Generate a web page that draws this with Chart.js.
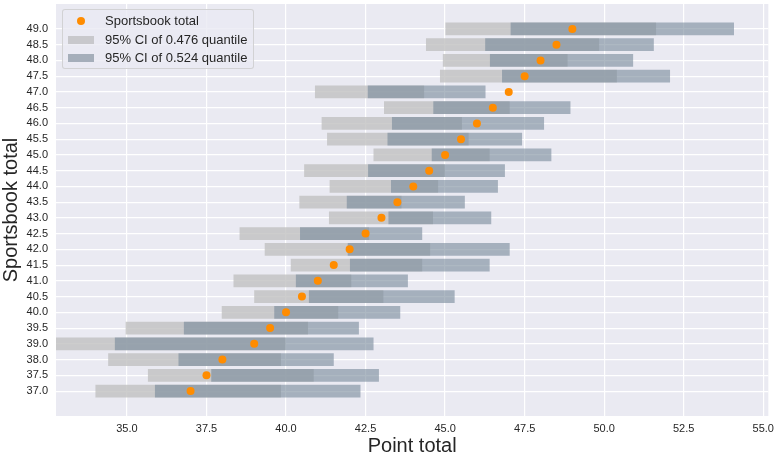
<!DOCTYPE html>
<html>
<head>
<meta charset="utf-8">
<script src="https://cdn.jsdelivr.net/npm/chart.js@4/dist/chart.umd.min.js"></script>
<style>
  html, body { margin: 0; padding: 0; background: #fff; }
  #wrap { position: relative; width: 780px; height: 456px; }
  #legend {
    position: absolute; left: 62px; top: 9px; width: 192px; height: 60px;
    box-sizing: border-box; padding: 2px 0 0 0;
    background: rgba(234, 234, 242, 0.8); border: 1px solid rgba(204, 204, 204, 0.8);
    border-radius: 3px; font-family: "Liberation Sans", Arial, sans-serif;
    font-size: 13px; color: #262626;
  }
  .item { position: relative; height: 18.5px; line-height: 18.5px; padding-left: 42px; white-space: nowrap; }
  .mark { position: absolute; top: 50%; transform: translateY(-50%); }
</style>
</head>
<body>
<div id="wrap">
  <canvas id="ci-chart" width="780" height="456"></canvas>
  <div id="legend"></div>
</div>
<script>
const sportsbookTotals = [37.0, 37.5, 38.0, 39.0, 39.5, 40.0, 40.5, 41.0, 41.5, 42.0, 42.5, 43.0,
  43.5, 44.0, 44.5, 45.0, 45.5, 46.0, 46.5, 47.0, 47.5, 48.0, 48.5, 49.0];
const yTickLabels = ["37.0", "37.5", "38.0", "39.0", "39.5", "40.0", "40.5", "41.0", "41.5", "42.0",
  "42.5", "43.0", "43.5", "44.0", "44.5", "45.0", "45.5", "46.0", "46.5", "47.0", "47.5", "48.0",
  "48.5", "49.0"];

// 95% CI of 0.476 quantile
const lowQuantLower = [34.02, 35.67, 34.42, 32.7, 34.97, 37.99, 39.01, 38.36, 40.16, 39.34, 38.55, 41.36,
  40.43, 41.38, 40.58, 42.76, 41.30, 41.13, 43.09, 40.92, 44.85, 44.94, 44.41, 45.02];
const lowQuantUpper = [39.83, 40.86, 39.83, 39.97, 40.68, 41.63, 43.05, 42.04, 44.27, 44.52, 42.6, 44.61,
  43.62, 44.77, 44.98, 46.39, 45.73, 45.52, 47.02, 44.33, 50.39, 48.84, 49.83, 51.62];

// 95% CI of 0.524 quantile
const highQuantLower = [35.89, 37.66, 36.63, 34.63, 36.80, 39.64, 40.73, 40.32, 42.02, 41.95, 40.45, 43.23,
  41.92, 43.31, 42.59, 44.59, 43.20, 43.34, 44.64, 42.58, 46.80, 46.42, 46.27, 47.07];
const highQuantUpper = [42.33, 42.91, 41.49, 42.74, 42.28, 43.58, 45.29, 43.82, 46.39, 47.02, 44.27, 46.44,
  45.61, 46.65, 46.87, 48.33, 47.41, 48.10, 48.93, 46.26, 52.06, 50.90, 51.55, 54.07];

const xTicks = [35.0, 37.5, 40.0, 42.5, 45.0, 47.5, 50.0, 52.5, 55.0];

const FONT = "'Liberation Sans', Arial, sans-serif";
const TEXT = "#262626";

const plotBackground = {
  id: "plotBackground",
  beforeDraw(chart) {
    const { ctx, chartArea: a } = chart;
    ctx.save();
    ctx.fillStyle = "#EAEAF2";
    ctx.fillRect(a.left, a.top, a.right - a.left, a.bottom - a.top);
    ctx.restore();
  },
};

const htmlLegend = {
  id: "htmlLegend",
  afterUpdate(chart) {
    const box = document.getElementById("legend");
    box.innerHTML = "";
    chart.data.datasets.forEach((ds) => {
      const row = document.createElement("div");
      row.className = "item";
      const mark = document.createElement("span");
      mark.className = "mark";
      if (ds.type === "scatter") {
        mark.style.cssText = "left:14px;width:8px;height:8px;border-radius:50%;background:" + ds.backgroundColor;
      } else {
        mark.style.cssText = "left:5px;width:26px;height:8px;background:" + ds.legendColor;
      }
      row.appendChild(mark);
      row.appendChild(document.createTextNode(ds.label));
      box.appendChild(row);
    });
  },
};

new Chart(document.getElementById("ci-chart"), {
  data: {
    datasets: [
      {
        type: "scatter",
        label: "Sportsbook total",
        data: sportsbookTotals.map((v, i) => ({ x: v, y: i })),
        backgroundColor: "darkorange",
        borderWidth: 0,
        pointRadius: 4,
        order: 0,
      },
      {
        type: "bar",
        label: "95% CI of 0.476 quantile",
        data: lowQuantLower.map((v, i) => ({ x: [v, lowQuantUpper[i]], y: i })),
        backgroundColor: "rgba(192, 192, 192, 0.8)",
        legendColor: "rgb(200, 200, 204)",
        barThickness: 12,
        grouped: false,
        borderWidth: 0,
        order: 2,
      },
      {
        type: "bar",
        label: "95% CI of 0.524 quantile",
        data: highQuantLower.map((v, i) => ({ x: [v, highQuantUpper[i]], y: i })),
        backgroundColor: "rgba(119, 136, 153, 0.6)",
        legendColor: "rgb(165, 174, 186)",
        barThickness: 12,
        grouped: false,
        borderWidth: 0,
        order: 1,
      },
    ],
  },
  options: {
    indexAxis: "y",
    responsive: false,
    animation: false,
    layout: { padding: { top: 3, right: 7, bottom: 0, left: 0 } },
    plugins: {
      legend: { display: false },
      tooltip: { enabled: false },
    },
    scales: {
      x: {
        type: "linear",
        position: "bottom",
        min: 32.77,
        max: 55.16,
        offset: false,
        afterBuildTicks: (scale) => {
          scale.ticks = xTicks.map((v) => ({ value: v }));
        },
        afterFit: (scale) => {
          scale.height = 40;
        },
        ticks: {
          callback: (v) => Number(v).toFixed(1),
          font: { family: FONT, size: 11 },
          color: TEXT,
          padding: 6,
          maxRotation: 0,
        },
        grid: { color: "#ffffff", lineWidth: 1.2, drawTicks: false, offset: false },
        border: { display: false },
        title: {
          display: true,
          text: "Point total",
          font: { family: FONT, size: 20, lineHeight: 1 },
          color: TEXT,
          padding: { top: 0, bottom: 0 },
        },
      },
      y: {
        type: "linear",
        position: "left",
        min: -1.58,
        max: sportsbookTotals.length - 1 + 1.58,
        offset: false,
        afterBuildTicks: (scale) => {
          scale.ticks = yTickLabels.map((_, i) => ({ value: i }));
        },
        afterFit: (scale) => {
          scale.width = 56;
          // labels sit well inside the range, no need for edge padding
          scale.paddingTop = 0;
          scale.paddingBottom = 0;
        },
        ticks: {
          callback: (v) => yTickLabels[v],
          font: { family: FONT, size: 11 },
          color: TEXT,
          padding: 8,
          autoSkip: false,
        },
        grid: { color: "#ffffff", lineWidth: 1.2, drawTicks: false, offset: false },
        border: { display: false },
        title: {
          display: true,
          text: "Sportsbook total",
          font: { family: FONT, size: 20, lineHeight: 1 },
          color: TEXT,
          padding: { top: 1, bottom: 0 },
        },
      },
    },
  },
  plugins: [plotBackground, htmlLegend],
});
</script>
</body>
</html>
